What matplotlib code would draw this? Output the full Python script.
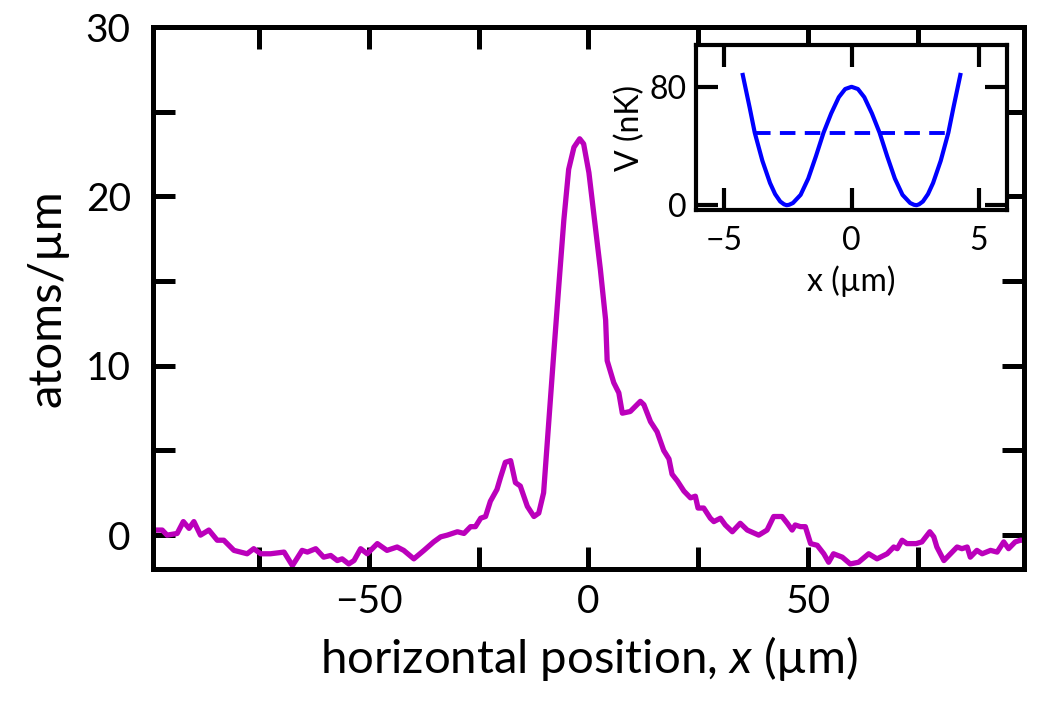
import numpy as np
import matplotlib
matplotlib.use("Agg")
import matplotlib.pyplot as plt
from matplotlib.ticker import MultipleLocator

plt.rcParams['font.family'] = ['Lato', 'DejaVu Sans']
plt.rcParams['mathtext.fontset'] = 'custom'
plt.rcParams['mathtext.rm'] = 'Lato'
plt.rcParams['mathtext.it'] = 'Lato:italic'

# density profile (position in um, atoms/um)
pos = [-99.0, -98.4, -96.9, -95.8, -93.5, -92.1, -90.8, -89.7, -88.2, -86.3,
       -84.4, -82.9, -80.6, -79.1, -77.6, -76.1, -74.5, -72.3, -69.2, -67.3,
       -65.1, -63.9, -62.0, -60.2, -58.6, -57.1, -56.0, -54.5, -53.3, -51.8,
       -50.3, -48.0, -45.8, -43.5, -42.0, -39.7, -37.4, -35.2, -33.6, -32.1,
       -29.8, -28.3, -26.8, -25.7, -24.5, -23.4, -22.3, -20.8, -20.0, -18.9,
       -17.7, -16.6, -15.5, -13.9, -12.4, -11.3, -10.2, -9.0, -7.9, -6.75,
       -5.6, -4.5, -3.3, -2.0, -1.1, 0.1, 1.2, 2.7, 3.9, 4.25,
       5.75, 6.9, 7.7, 9.5, 11.8, 12.6, 14.1, 15.6, 17.1, 18.3,
       19.0, 20.2, 21.7, 23.2, 24.3, 24.9, 26.2, 27.7, 28.5, 30.0,
       31.1, 32.7, 34.5, 36.1, 38.7, 40.6, 42.1, 44.0, 45.2, 46.3,
       47.0, 48.2, 49.3, 50.5, 52.0, 53.5, 54.6, 55.7, 57.7, 59.5,
       61.4, 63.7, 65.6, 67.9, 69.4, 70.2, 71.3, 72.4, 74.5, 75.8,
       77.6, 78.5, 79.2, 80.8, 82.3, 83.8, 84.9, 86.1, 86.8, 88.3,
       89.5, 91.4, 92.9, 94.4, 95.5, 97.0, 98.2, 99.0]
density = [0.2, 0.3, 0.3, 0.0, 0.1, 0.8, 0.4, 0.8, 0.0, 0.3,
           -0.3, -0.3, -0.9, -1.0, -1.1, -0.8, -1.1, -1.1, -1.0, -1.8,
           -0.9, -1.0, -0.8, -1.3, -1.2, -1.5, -1.4, -1.7, -1.5, -0.8,
           -1.1, -0.5, -0.9, -0.7, -0.9, -1.4, -0.9, -0.4, -0.1, 0.0,
           0.2, 0.1, 0.5, 0.5, 1.0, 1.1, 2.0, 2.7, 3.4, 4.3,
           4.4, 3.1, 2.9, 1.7, 1.1, 1.3, 2.5, 6.8, 10.7, 14.7,
           18.6, 21.6, 22.9, 23.4, 23.1, 21.4, 19.0, 15.7, 12.7, 10.3,
           9.0, 8.4, 7.2, 7.3, 7.9, 7.7, 6.7, 6.1, 5.0, 4.5,
           3.6, 3.2, 2.6, 2.2, 2.3, 1.6, 1.6, 1.0, 0.8, 1.0,
           0.6, 0.2, 0.7, 0.3, 0.0, 0.3, 1.1, 1.1, 0.7, 0.3,
           0.6, 0.5, 0.5, -0.5, -0.6, -1.1, -1.6, -1.1, -1.3, -1.7,
           -1.6, -1.1, -1.4, -1.1, -0.7, -0.8, -0.3, -0.5, -0.5, -0.4,
           0.2, -0.1, -0.7, -1.5, -1.1, -0.7, -0.8, -0.7, -1.3, -0.9,
           -1.1, -0.9, -1.0, -0.4, -0.8, -0.4, -0.3, -0.3]

# double-well potential for the inset (um, nK)
well_x = [-4.27, -4.0, -3.8, -3.5, -3.2, -3.0, -2.8, -2.65, -2.55, -2.45,
          -2.3, -2.0, -1.7, -1.4, -1.1, -0.8, -0.5, -0.25, 0.0, 0.25,
          0.5, 0.8, 1.1, 1.4, 1.7, 2.0, 2.3, 2.45, 2.55, 2.65,
          2.8, 3.0, 3.2, 3.5, 3.8, 4.0, 4.27]
well_v = [88, 66, 49, 30, 15, 7.5, 2.5, 0.6, 0, 0.3,
          1.5, 7, 18, 33, 49, 62, 73, 78.5, 80, 78.5,
          73, 62, 49, 33, 18, 7, 1.5, 0.3, 0, 0.6,
          2.5, 7.5, 15, 30, 49, 66, 88]
level_x = [-3.8, 3.8]
level_v = [49, 49]

fig = plt.figure(figsize=(10.5, 7.2), dpi=100)
ax = fig.add_axes([0.1457, 0.2097, 0.8295, 0.7528])
ax.plot(pos, density, color='#bb00bb', lw=3.8, solid_joinstyle='round')
ax.set_xlim(-99, 99)
ax.set_ylim(-2, 30)
ax.xaxis.set_major_locator(MultipleLocator(50))
ax.xaxis.set_minor_locator(MultipleLocator(25))
ax.yaxis.set_major_locator(MultipleLocator(10))
ax.yaxis.set_minor_locator(MultipleLocator(5))
ax.tick_params(which='both', direction='in', top=True, right=True,
               length=16, width=3.6)
ax.tick_params(axis='x', which='major', labelsize=28, pad=11)
ax.tick_params(axis='y', which='major', labelsize=28, pad=16)
for s in ax.spines.values():
    s.set_linewidth(3.6)
ax.set_xlabel('horizontal position, $x$ (µm)', fontsize=34, labelpad=10)
ax.set_ylabel('atoms/µm', fontsize=34, labelpad=12)

ins = fig.add_axes([0.663, 0.708, 0.296, 0.229])
ins.plot(well_x, well_v, color='#0000ff', lw=3, solid_joinstyle='round')
ins.plot(level_x, level_v, color='#0000ff', lw=2.8, dashes=(4.0, 2.4))
ins.set_xlim(-6.1, 6.1)
ins.set_ylim(-3.4, 108)
ins.set_xticks([-5, 0, 5])
ins.set_yticks([0, 80])
ins.tick_params(direction='in', top=True, right=True, length=16, width=3,
                labelsize=23)
ins.tick_params(axis='x', pad=11)
ins.tick_params(axis='y', pad=7)
for s in ins.spines.values():
    s.set_linewidth(3)
ins.set_xlabel('x (µm)', fontsize=23, labelpad=7)
ins.set_ylabel('V (nK)', fontsize=23, labelpad=3)

fig.savefig('out.png', dpi=100)
